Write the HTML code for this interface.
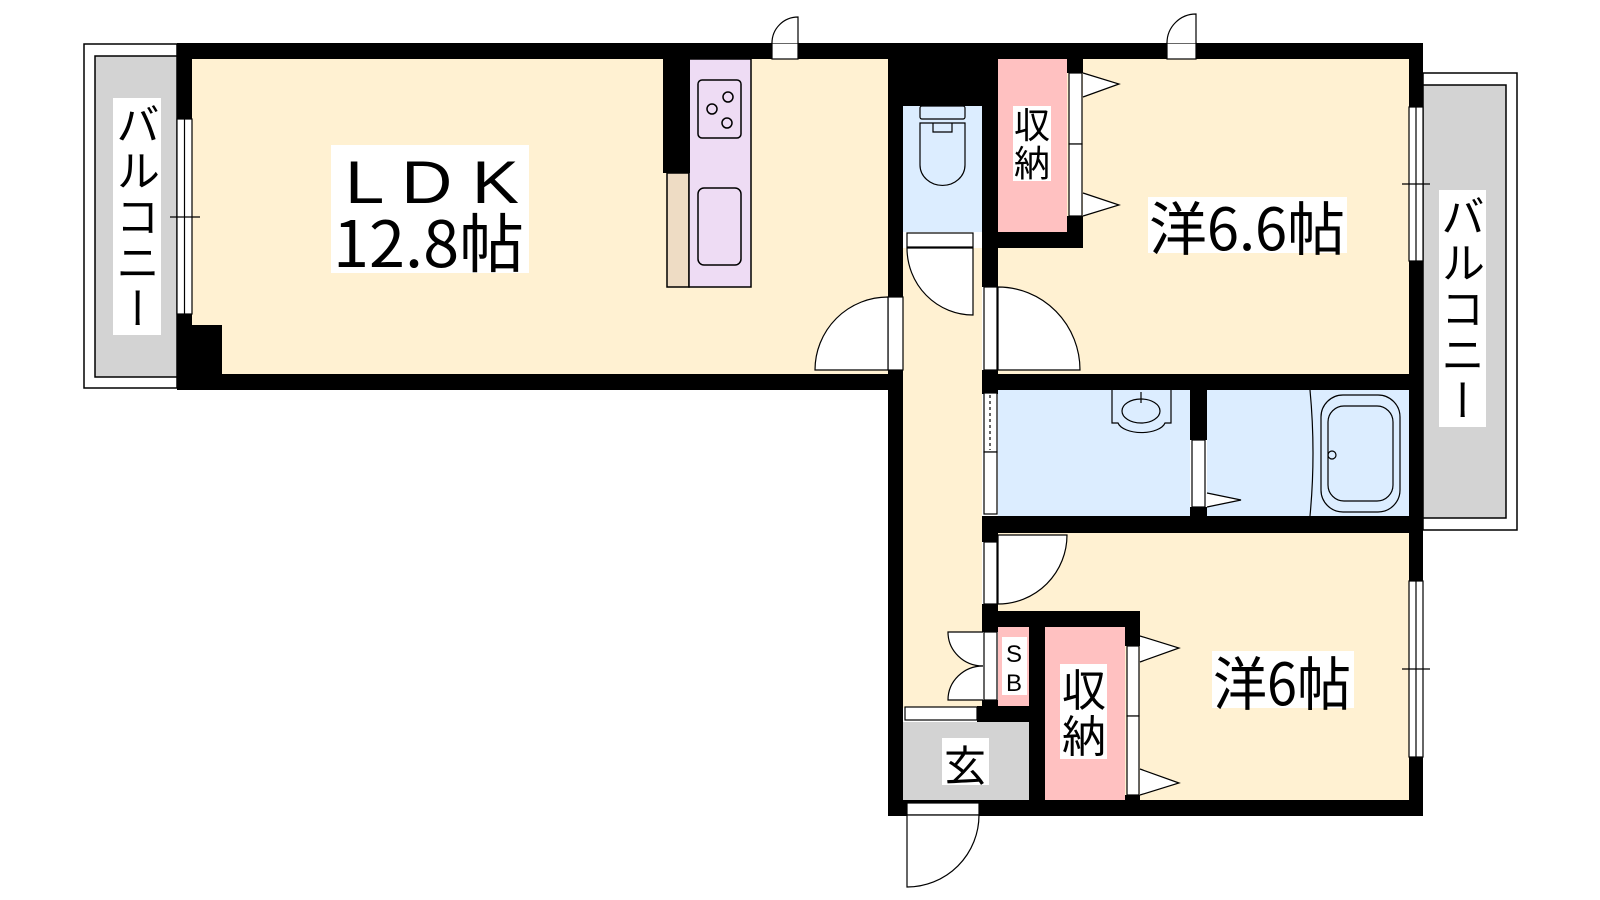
<!DOCTYPE html>
<html><head><meta charset="utf-8"><style>
html,body{margin:0;padding:0;background:#fff;width:1600px;height:900px;overflow:hidden}
svg{display:block}
text{font-family:"Liberation Sans","Noto Sans CJK JP",sans-serif;fill:#000}
.j{font-family:"Noto Sans CJK JP","Liberation Sans",sans-serif}
</style></head><body>
<svg width="1600" height="900" viewBox="0 0 1600 900" xmlns="http://www.w3.org/2000/svg">
<g stroke="#000" stroke-width="1.5" fill="none">
<!-- balconies -->
<rect x="84" y="44" width="93" height="344" fill="#fff"/>
<rect x="95" y="56" width="82" height="321" fill="#d3d3d3"/>
<rect x="1423" y="73" width="94" height="457" fill="#fff"/>
<rect x="1423" y="85" width="83" height="433" fill="#d3d3d3"/>
</g>
<!-- floors -->
<rect x="192" y="59" width="696" height="315" fill="#fff1d2"/>
<rect x="998" y="59" width="411" height="315" fill="#fff1d2"/>
<rect x="903" y="248" width="79" height="460" fill="#fff1d2"/>
<rect x="998" y="533" width="411" height="267" fill="#fff1d2"/>
<rect x="903" y="106" width="79" height="126" fill="#dcedff"/>
<rect x="998" y="390" width="192" height="126" fill="#dcedff"/>
<rect x="1207" y="390" width="202" height="126" fill="#dcedff"/>
<rect x="998" y="59" width="69" height="173" fill="#ffc1c1"/>
<rect x="998" y="627" width="31" height="79" fill="#ffc1c1"/>
<rect x="1045" y="627" width="80" height="173" fill="#ffc1c1"/>
<rect x="903" y="722" width="126" height="78" fill="#d3d3d3"/>
<!-- kitchen -->
<rect x="667" y="173" width="22" height="114" fill="#eedcc4" stroke="#000" stroke-width="1.5"/>
<rect x="689" y="59" width="62" height="228" fill="#eedcf4" stroke="#000" stroke-width="1.5"/>
<g stroke="#000" stroke-width="1.5" fill="none">
<rect x="698" y="80" width="43" height="58" rx="4"/>
<circle cx="728" cy="97" r="5"/><circle cx="712" cy="109" r="5"/><circle cx="727" cy="123" r="5"/>
<rect x="698" y="188" width="43" height="77" rx="6"/>
</g>
<!-- walls -->
<g fill="#000">
<rect x="177" y="43" width="1246" height="16"/>
<rect x="177" y="43" width="15" height="346"/>
<rect x="177" y="325" width="45" height="64"/>
<rect x="177" y="374" width="726" height="16"/>
<rect x="663" y="59" width="27" height="114"/>
<rect x="888" y="43" width="110" height="63"/>
<rect x="888" y="59" width="15" height="757"/>
<rect x="982" y="59" width="16" height="189"/>
<rect x="982" y="232" width="101" height="16"/>
<rect x="1067" y="59" width="16" height="14"/>
<rect x="1067" y="216" width="16" height="32"/>
<rect x="982" y="248" width="16" height="39"/>
<rect x="982" y="370" width="16" height="20"/>
<rect x="982" y="374" width="441" height="16"/>
<rect x="982" y="374" width="16" height="20"/>
<rect x="1190" y="390" width="17" height="50"/>
<rect x="1190" y="507" width="17" height="9"/>
<rect x="982" y="516" width="441" height="17"/>
<rect x="982" y="516" width="16" height="26"/>
<rect x="982" y="604" width="16" height="28"/>
<rect x="982" y="611" width="158" height="16"/>
<rect x="1125" y="611" width="15" height="35"/>
<rect x="1125" y="795" width="15" height="10"/>
<rect x="1029" y="627" width="16" height="173"/>
<rect x="977" y="706" width="68" height="16"/>
<rect x="982" y="700" width="16" height="22"/>
<rect x="888" y="800" width="535" height="16"/>
<rect x="1409" y="43" width="14" height="773"/>
</g>
<!-- windows / door frames -->
<g fill="#fff" stroke="#000" stroke-width="1.2">
<rect x="177" y="119" width="15" height="195"/>
<rect x="1409" y="107" width="14" height="154"/>
<rect x="1409" y="581" width="14" height="176"/>
<rect x="772" y="43" width="26" height="16"/>
<rect x="1167" y="43" width="29" height="16"/>
<rect x="907" y="233" width="66" height="14"/>
<rect x="888" y="297" width="15" height="73"/>
<rect x="984" y="287" width="13" height="83"/>
<rect x="1069" y="73" width="13" height="71"/>
<rect x="1069" y="144" width="13" height="72"/>
<rect x="984" y="393" width="13" height="59"/>
<rect x="984" y="452" width="13" height="62"/>
<rect x="1192" y="440" width="13" height="67"/>
<rect x="984" y="542" width="13" height="62"/>
<rect x="984" y="632" width="13" height="68"/>
<rect x="1127" y="646" width="12" height="70"/>
<rect x="1127" y="716" width="12" height="79"/>
<rect x="905" y="707" width="72" height="13"/>
<rect x="907" y="803" width="72" height="12"/>
</g>
<g stroke="#000" stroke-width="1.2" fill="none">
<line x1="184.5" y1="119" x2="184.5" y2="314"/><line x1="170" y1="217" x2="200" y2="217"/>
<line x1="1416" y1="107" x2="1416" y2="261"/><line x1="1402" y1="184" x2="1430" y2="184"/>
<line x1="1416" y1="581" x2="1416" y2="757"/><line x1="1402" y1="669" x2="1430" y2="669"/>
<line x1="990" y1="395" x2="990" y2="450" stroke-dasharray="3 3"/>
<!-- door arcs -->
<path d="M798 43 L798 17 A26 26 0 0 0 772 43" fill="#fff"/>
<path d="M1196 43 L1196 14 A29 29 0 0 0 1167 43" fill="#fff"/>
<path d="M888 370 L888 297 A73 73 0 0 0 815 370 Z" fill="#fff"/>
<path d="M998 370 L998 287 A82 83 0 0 1 1080 370 Z" fill="#fff"/>
<path d="M907 248 L973 248 L973 315 A66 67 0 0 1 907 248 Z" fill="#fff"/>
<path d="M998 535 L1067 535 A69 69 0 0 1 998 604 Z" fill="#fff"/>
<path d="M907 815 L979 815 A72 72 0 0 1 907 887 Z" fill="#fff"/>
<path d="M983 632 L948 632 A35 34 0 0 0 983 666" fill="#fff"/>
<path d="M983 700 L948 700 A35 34 0 0 1 983 666" fill="#fff"/>
<!-- closet triangles -->
<path d="M1083 73 L1119 84 L1083 97" fill="#fff"/>
<path d="M1083 193 L1119 205 L1083 216" fill="#fff"/>
<path d="M1140 636 L1179 648 L1140 662" fill="#fff"/>
<path d="M1140 769 L1179 783 L1140 795" fill="#fff"/>
<path d="M1207 493 L1241 500 L1207 507" fill="#fff"/>
<!-- toilet -->
<rect x="920" y="106" width="45" height="13" rx="2"/>
<path d="M920 123 H965 V165 A22 20 0 0 1 920 165 Z"/>
<path d="M933 123 V132 H952 V123"/>
<!-- sink -->
<path d="M1112 390 V423 H1118 A24 12 0 0 0 1165 423 H1171 V390"/>
<ellipse cx="1141" cy="411" rx="19" ry="12"/>
<line x1="1141" y1="392" x2="1141" y2="403"/>
<!-- tub -->
<path d="M1310 390 Q1316 453 1310 516"/>
<rect x="1321" y="395" width="79" height="117" rx="22"/>
<rect x="1328" y="406" width="65" height="95" rx="16"/>
<circle cx="1332" cy="455" r="4"/>
</g>
<!-- label boxes -->
<g fill="#fff">
<rect x="113" y="98" width="48" height="237"/>
<rect x="1439" y="190" width="47" height="237"/>
<rect x="331" y="145" width="198" height="128"/>
<rect x="1148" y="197" width="199" height="56"/>
<rect x="1212" y="651" width="142" height="57"/>
<rect x="1013" y="106" width="38" height="75"/>
<rect x="1060" y="664" width="47" height="95"/>
<rect x="942" y="738" width="47" height="47"/>
<rect x="1002" y="637" width="25" height="58"/>
</g>
<!-- text -->
<text class="j" x="138" y="102" font-size="44" writing-mode="tb" letter-spacing="2" style="writing-mode:vertical-rl" text-anchor="start">バルコニー</text>
<text class="j" x="1463" y="194" font-size="44" writing-mode="tb" letter-spacing="2" style="writing-mode:vertical-rl" text-anchor="start">バルコニー</text>
<text x="345" y="203" font-size="60" textLength="174" lengthAdjust="spacingAndGlyphs">L D K</text>
<text class="j" x="333" y="267" font-size="64" textLength="191" lengthAdjust="spacingAndGlyphs">12.8帖</text>
<text class="j" x="1149" y="250" font-size="58" textLength="196" lengthAdjust="spacingAndGlyphs">洋6.6帖</text>
<text class="j" x="1213" y="705" font-size="58" textLength="138" lengthAdjust="spacingAndGlyphs">洋6帖</text>
<text class="j" x="1032" y="138" font-size="36" text-anchor="middle">収</text>
<text class="j" x="1032" y="176" font-size="36" text-anchor="middle">納</text>
<text class="j" x="1084" y="706" font-size="44" text-anchor="middle">収</text>
<text class="j" x="1084" y="752" font-size="44" text-anchor="middle">納</text>
<text class="j" x="965" y="781" font-size="42" text-anchor="middle">玄</text>
<text x="1014" y="662" font-size="24" text-anchor="middle">S</text>
<text x="1014" y="691" font-size="24" text-anchor="middle">B</text>
</svg>
</body></html>
